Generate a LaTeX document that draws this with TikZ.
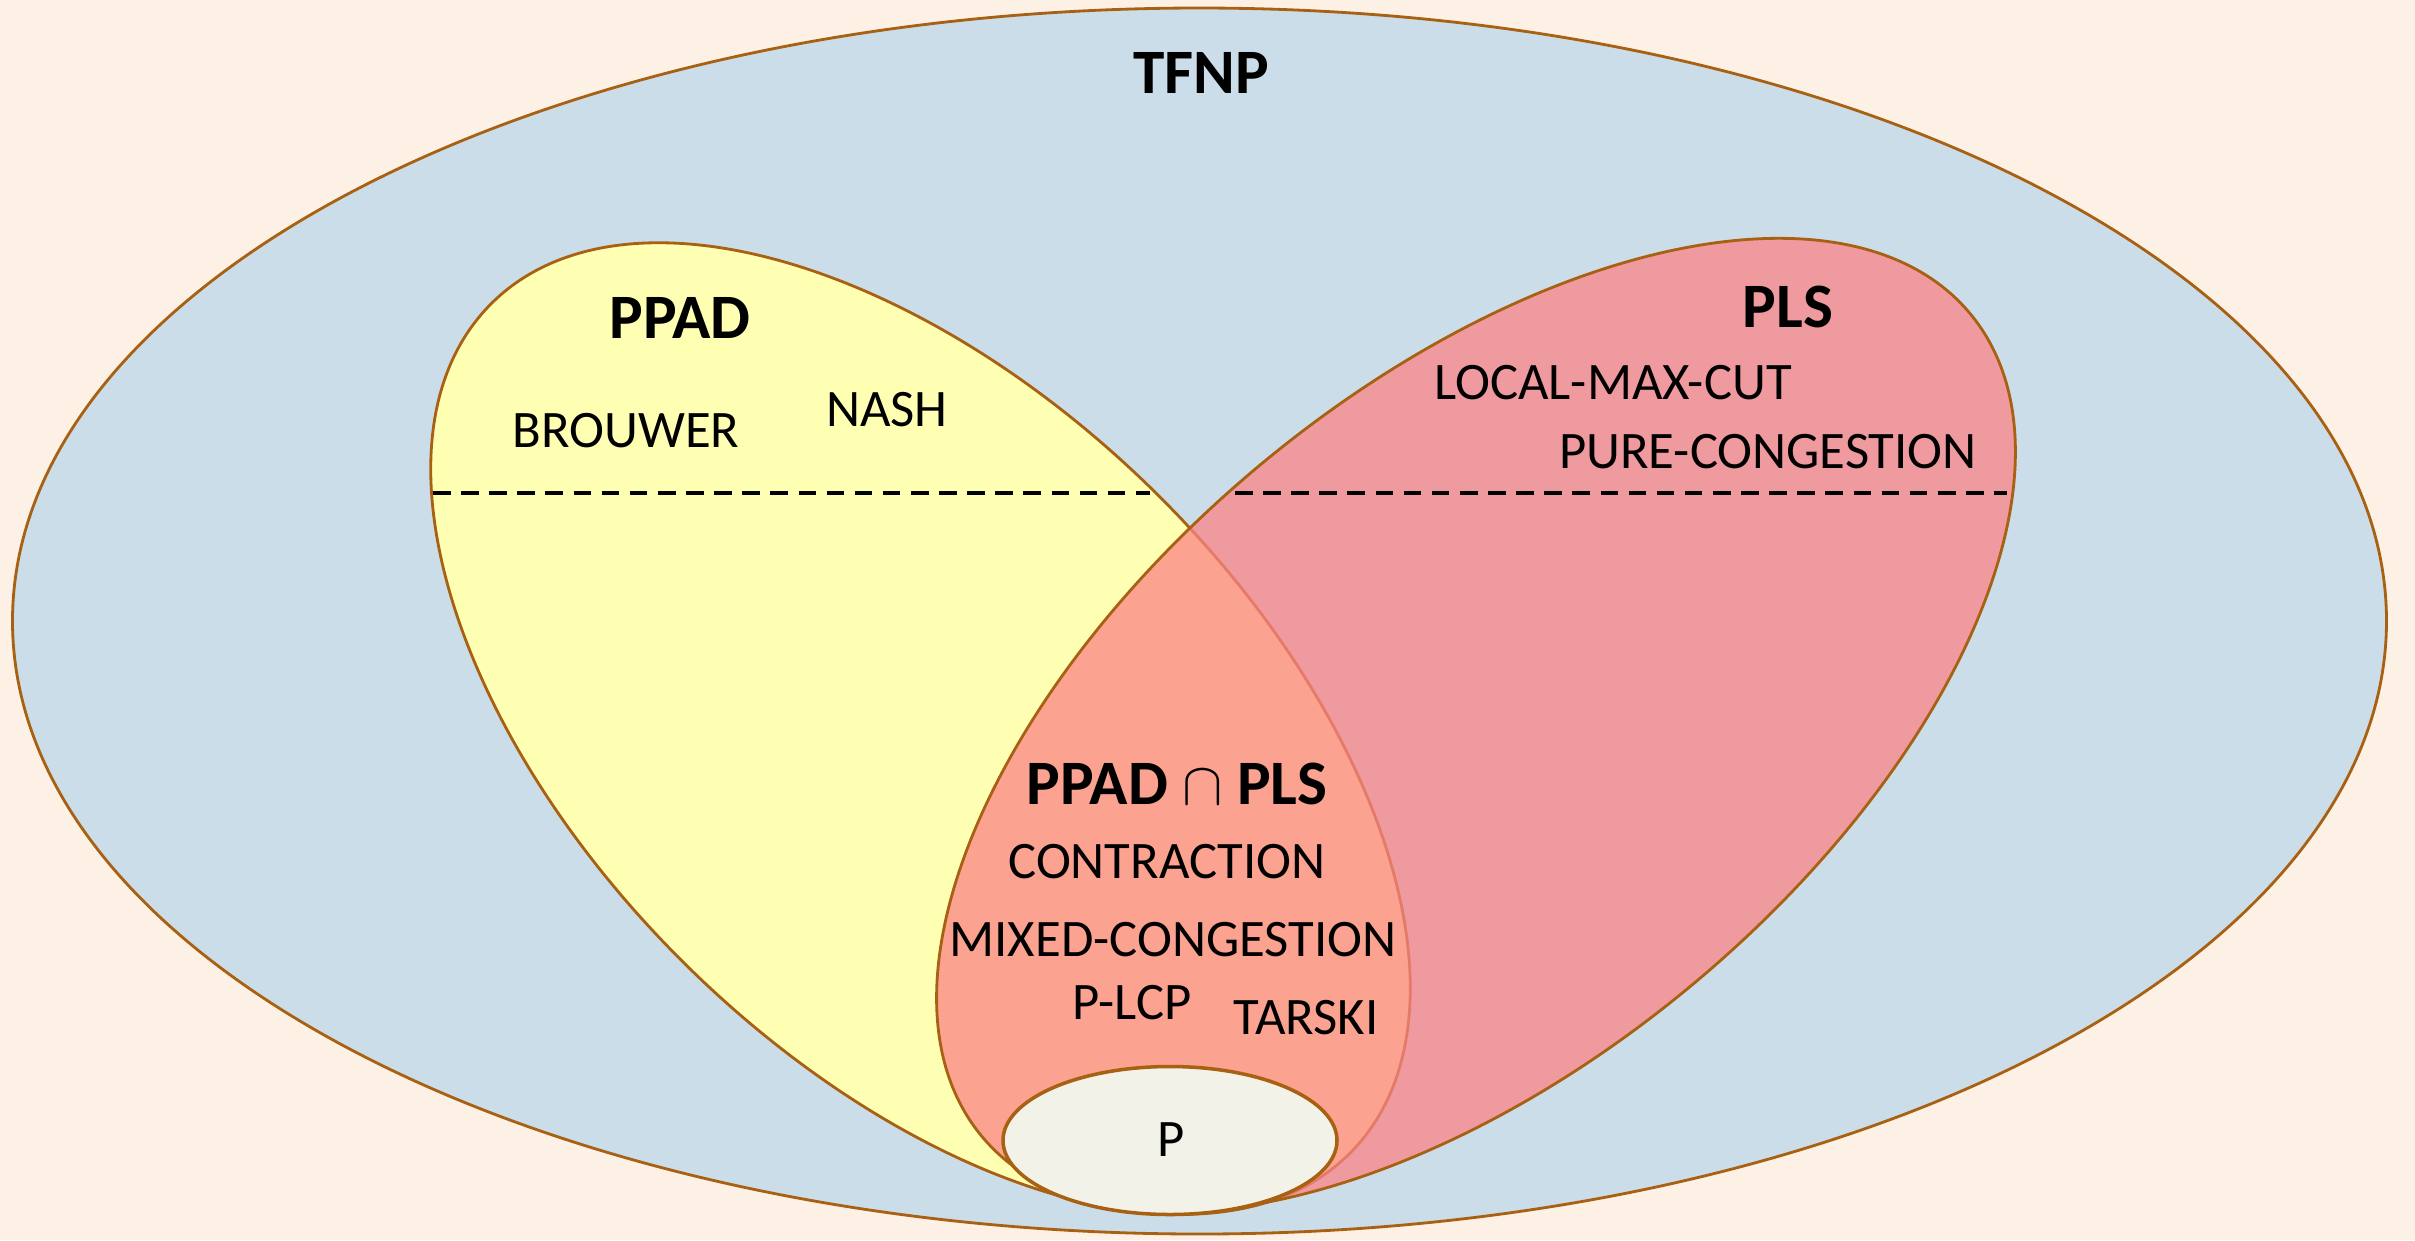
\documentclass[tikz,border=0pt]{standalone}
\usepackage{fontspec}
\setmainfont{Carlito}
\usepackage{tikz}

\definecolor{bgpeach}{RGB}{253,241,229}
\definecolor{tfnpblue}{RGB}{203,221,233}
\definecolor{ppadyellow}{RGB}{255,255,179}
\definecolor{plsred}{RGB}{250,132,133}
\definecolor{pwhite}{RGB}{242,242,232}
\definecolor{setbrown}{RGB}{168,96,18}

\begin{document}
\begin{tikzpicture}[line join=round,
  setline/.style={draw=setbrown,line width=0.8pt},
  clsname/.style={font=\fontsize{18}{20}\selectfont\bfseries,inner sep=0pt},
  problem/.style={font=\fontsize{15}{17}\selectfont,inner sep=0pt},
  sepline/.style={dash pattern=on 5pt off 3pt,line width=1.1pt}]

% centres and semi-axes of the sets
\def\ppadx{9.205}  \def\ppady{-7.285}
\def\plsx{14.76}   \def\plsy{-7.25}

\useasboundingbox (0,0) rectangle (24.15,-12.40);
\fill[bgpeach] (0,0) rectangle (24.15,-12.40);

%---------------------------
% TFNP
%---------------------------
\draw[setline,fill=tfnpblue] (11.995,-6.21) ellipse [x radius=11.87,y radius=6.13];

%---------------------------
% PPAD and PLS
%---------------------------
\draw[setline,fill=ppadyellow,shift={(\ppadx,\ppady)},rotate=-44.56]
  (0,0) ellipse [x radius=6.04,y radius=3.33];
\fill[plsred,fill opacity=0.75,shift={(\plsx,\plsy)},rotate=39.8]
  (0,0) ellipse [x radius=6.43,y radius=3.38];
\draw[setline,shift={(\plsx,\plsy)},rotate=39.8]
  (0,0) ellipse [x radius=6.43,y radius=3.38];

% separators
\coordinate (ppadL) at (4.33,-4.93);
\coordinate (ppadR) at (11.50,-4.93);
\coordinate (plsL) at (12.35,-4.93);
\coordinate (plsR) at (20.07,-4.93);
\draw[sepline] (ppadL) -- (ppadR);
\draw[sepline] (plsL) -- (plsR);

%---------------------------
% P
%---------------------------
\draw[draw=setbrown,line width=1pt,fill=pwhite] (11.70,-11.405) ellipse [x radius=1.67,y radius=0.74];

%---------------------------
% labels
%---------------------------
\node[clsname] (tfnp) at (12.01,-0.73) {TFNP};
\node[clsname] (ppad) at (6.80,-3.18) {PPAD};
\node[clsname] (pls) at (17.88,-3.07) {PLS};
\node[clsname] (both) at (11.77,-7.84) {PPAD \mbox{\fontsize{16}{18}\selectfont$\cap$} PLS};

\node[problem] (brouwer) at (6.26,-4.31) {BROUWER};
\node[problem] (nash) at (8.87,-4.10) {NASH};
\node[problem] (maxcut) at (16.13,-3.83) {LOCAL-MAX-CUT};
\node[problem] (purecong) at (17.68,-4.52) {PURE-CONGESTION};
\node[problem] (contraction) at (11.67,-8.62) {CONTRACTION};
\node[problem] (mixedcong) at (11.73,-9.40) {MIXED-CONGESTION};
\node[problem] (plcp) at (11.32,-10.03) {P-LCP};
\node[problem] (tarski) at (13.06,-10.18) {TARSKI};
\node[problem] (pclass) at (11.71,-11.40) {P};

\end{tikzpicture}
\end{document}
